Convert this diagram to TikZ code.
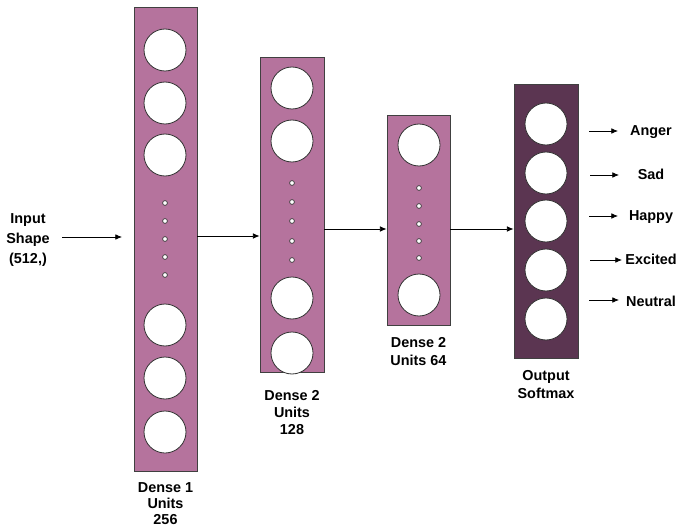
\documentclass[tikz,border=0pt]{standalone}
\usepackage{fontspec}
\setmainfont{Liberation Sans}
\usetikzlibrary{arrows.meta,positioning,calc}
\definecolor{layerpink}{HTML}{B5739D}
\definecolor{layerdark}{HTML}{5B3551}

\begin{document}
\begin{tikzpicture}[
    x=0.75pt,
    y=-0.75pt,
    layer/.style={
        rectangle,
        draw=black!75,
        fill=layerpink,
        inner sep=0pt,
        line width=0.6pt
    },
    neuron/.style={
        circle,
        draw=black!80,
        fill=white,
        minimum size=31.5pt,
        inner sep=0pt,
        line width=0.6pt
    },
    dot/.style={
        circle,
        draw=black!80,
        fill=white,
        minimum size=3.6pt,
        inner sep=0pt,
        line width=0.5pt
    },
    lbl/.style={
        font=\bfseries\fontsize{10.8}{13}\selectfont,
        align=center,
        inner sep=1pt
    },
    line/.style={
        draw,
        -{Latex[length=5pt,width=4.2pt]},
        line width=0.6pt
    }
]

    % Canvas
    \useasboundingbox (0,0) rectangle (678,531);

    % Layers
    \node [layer, minimum width=47.25pt, minimum height=348pt] (dense1) at (165.5,239) {};
    \node [layer, minimum width=48pt, minimum height=236.25pt] (dense2) at (292,214.5) {};
    \node [layer, minimum width=47.25pt, minimum height=157.5pt] (dense3) at (418.5,220) {};
    \node [layer, fill=layerdark, minimum width=48pt, minimum height=205.5pt] (outl) at (546,221) {};

    % Neurons of Dense 1
    \node [neuron] (d1a) at (165,50) {};
    \node [neuron] (d1b) at (165,103) {};
    \node [neuron] (d1c) at (165,155) {};
    \node [neuron] (d1d) at (165,325) {};
    \node [neuron] (d1e) at (165,378) {};
    \node [neuron] (d1f) at (165,432) {};
    \foreach \y in {203,221,239,257,275}
        \node [dot] at (165,\y) {};

    % Neurons of Dense 2 (128)
    \node [neuron] (d2a) at (292,88) {};
    \node [neuron] (d2b) at (292,141) {};
    \node [neuron] (d2c) at (292,298) {};
    \node [neuron] (d2d) at (292,353) {};
    \foreach \y in {183,202,221,241,260}
        \node [dot] at (292,\y) {};

    % Neurons of Dense 2 (64)
    \node [neuron] (d3a) at (419,145) {};
    \node [neuron] (d3b) at (419,295) {};
    \foreach \y in {188,206,224,241,258}
        \node [dot] at (419,\y) {};

    % Output neurons
    \node [neuron] (o1) at (546,124) {};
    \node [neuron] (o2) at (546,173) {};
    \node [neuron] (o3) at (546,221) {};
    \node [neuron] (o4) at (546,270) {};
    \node [neuron] (o5) at (546,319) {};

    % Layer labels
    \node [lbl, below=7pt of dense1, font=\bfseries\fontsize{10.8}{12}\selectfont] (lab1) {Dense 1\\Units\\256};
    \node [lbl, below=12pt of dense2] (lab2) {Dense 2\\Units\\128};
    \node [lbl, below=8pt of dense3] (lab3) {Dense 2\\Units 64};
    \node [lbl, below=8pt of outl] (lab4) {Output\\Softmax};

    % Input
    \node [lbl, font=\bfseries\fontsize{10.8}{15}\selectfont] (inp) at (28,240) {Input\\Shape\\(512,)};
    \coordinate (in_s) at (62,237);
    \coordinate (in_e) at (122,237);
    \coordinate (j1) at (0,236);
    \coordinate (j2) at (0,229);

    % Classes
    \node [lbl] (anger) at (651,132) {Anger};
    \node [lbl] (sad) at (651,174) {Sad};
    \node [lbl] (happy) at (651,217) {Happy};
    \node [lbl] (excited) at (651,259) {Excited};
    \node [lbl] (neutral) at (651,301) {Neutral};
    \coordinate (c1) at (589,131);
    \coordinate (c2) at (590,175);
    \coordinate (c3) at (589,216);
    \coordinate (c4) at (590,260);
    \coordinate (c5) at (589,300);

    % Edges
    \path [line] (in_s) -- (in_e);
    \path [line] (dense1.east |- j1) -- (dense2.west |- j1);
    \path [line] (dense2.east |- j2) -- (dense3.west |- j2);
    \path [line] (dense3.east |- j2) -- (outl.west |- j2);

    \path [line] (c1) -- ++(29,0);
    \path [line] (c2) -- ++(29,0);
    \path [line] (c3) -- ++(29,0);
    \path [line] (c4) -- ++(32,0);
    \path [line] (c5) -- ++(30,0);

\end{tikzpicture}
\end{document}
